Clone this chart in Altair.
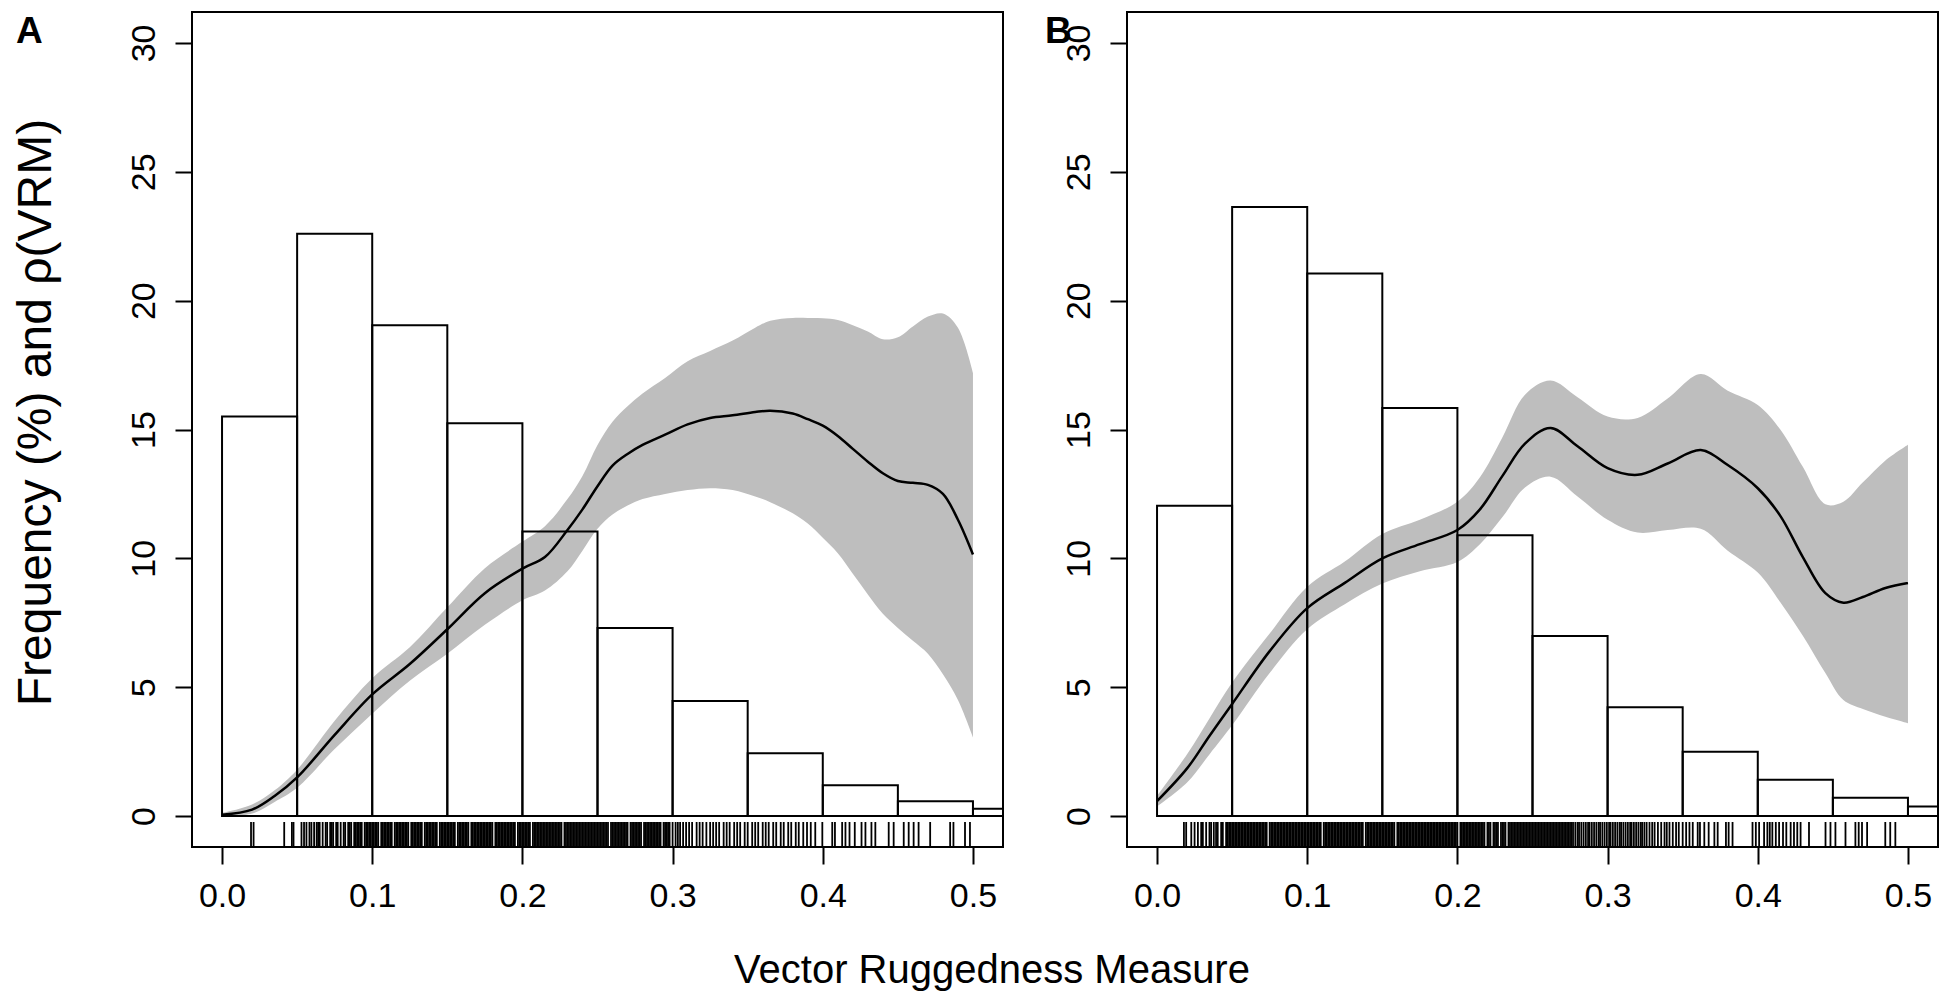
import altair as alt
import pandas as pd

# ---------------- data ----------------
BIN_START = [0.0, 0.05, 0.10, 0.15, 0.20, 0.25, 0.30, 0.35, 0.40, 0.45, 0.50]
BIN_END = [0.05, 0.10, 0.15, 0.20, 0.25, 0.30, 0.35, 0.40, 0.45, 0.50, 0.55]
HIST_A = [15.5, 22.6, 19.05, 15.24, 11.04, 7.3, 4.47, 2.44, 1.2, 0.58, 0.28]
HIST_B = [12.04, 23.63, 21.05, 15.83, 10.9, 6.99, 4.22, 2.5, 1.41, 0.71, 0.37]

CX_A = [0.0, 0.02, 0.035, 0.05, 0.075, 0.1, 0.125, 0.15, 0.175, 0.2, 0.215, 0.23,
        0.24, 0.25, 0.26, 0.27, 0.28, 0.295, 0.31, 0.325, 0.34, 0.355, 0.365, 0.38,
        0.39, 0.4, 0.41, 0.42, 0.43, 0.44, 0.45, 0.46, 0.47, 0.48, 0.49, 0.5]
MID_A = [0.05, 0.25, 0.78, 1.5, 3.15, 4.72, 5.9, 7.25, 8.65, 9.6, 10.05, 11.1,
         11.9, 12.8, 13.6, 14.05, 14.4, 14.8, 15.2, 15.45, 15.55, 15.68, 15.73, 15.62,
         15.4, 15.15, 14.75, 14.25, 13.75, 13.3, 13.0, 12.93, 12.85, 12.5, 11.5, 10.15]
HI_A = [0.12, 0.45, 1.0, 1.8, 3.7, 5.35, 6.55, 8.1, 9.62, 10.65, 11.25, 12.3,
        13.2, 14.4, 15.3, 15.9, 16.4, 17.0, 17.65, 18.05, 18.45, 18.95, 19.22, 19.33,
        19.33, 19.32, 19.25, 19.05, 18.8, 18.5, 18.58, 19.0, 19.38, 19.5, 18.95, 17.2]
LO_A = [0.0, 0.1, 0.55, 1.1, 2.6, 3.97, 5.25, 6.3, 7.42, 8.37, 8.75, 9.5,
        10.3, 11.15, 11.7, 12.05, 12.3, 12.5, 12.65, 12.72, 12.65, 12.4, 12.18, 11.75,
        11.35, 10.8, 10.2, 9.4, 8.6, 7.85, 7.3, 6.8, 6.3, 5.5, 4.5, 3.05]

CX_B = [0.0, 0.02, 0.035, 0.05, 0.075, 0.1, 0.125, 0.15, 0.175, 0.2, 0.215, 0.23,
        0.245, 0.262, 0.28, 0.3, 0.32, 0.34, 0.362, 0.38, 0.4, 0.415, 0.43, 0.445,
        0.457, 0.47, 0.485, 0.5]
MID_B = [0.58, 1.85, 3.12, 4.35, 6.4, 8.07, 9.05, 10.0, 10.55, 11.1, 11.9, 13.2,
         14.45, 15.06, 14.35, 13.5, 13.24, 13.68, 14.2, 13.62, 12.72, 11.65, 10.05, 8.65,
         8.28, 8.5, 8.85, 9.04]
HI_B = [0.78, 2.4, 3.8, 5.18, 7.08, 8.9, 9.88, 10.95, 11.5, 12.2, 13.15, 14.7,
        16.35, 16.9, 16.25, 15.5, 15.45, 16.2, 17.15, 16.5, 15.95, 15.0, 13.55, 12.1,
        12.2, 12.95, 13.8, 14.41]
LO_B = [0.37, 1.3, 2.4, 3.52, 5.55, 7.25, 8.22, 9.02, 9.5, 9.86, 10.55, 11.6,
        12.75, 13.17, 12.4, 11.5, 11.0, 11.1, 11.15, 10.3, 9.45, 8.3, 7.0, 5.55,
        4.5, 4.15, 3.85, 3.6]

# rug positions, in thousandths of VRM
RUG_A = [
    19.3, 21.0, 41.4, 46.5, 47.6, 52.9, 54.6, 56.2, 58.2, 59.5, 61.3,
    63, 64, 65, 67, 69, 70, 72, 73, 74, 76, 77, 79, 81, 82, 84, 85, 86, 88, 89,
    90, 91, 92, 93, 95, 96, 97, 98, 99, 100, 101, 102, 103, 104, 106, 107, 108, 109,
    110, 111, 112, 113, 115, 116, 117, 118, 119, 120, 121, 122, 123, 124, 126, 127, 128, 129,
    130, 131, 132, 133, 135, 136, 137, 138, 139, 140, 141, 142, 143, 145, 146, 147, 148, 149,
    150, 151, 152, 153, 154, 155, 157, 158, 159, 160, 161, 162, 163, 164, 166, 167, 168, 169,
    170, 171, 172, 173, 174, 175, 176, 177, 178, 179, 180, 182, 183, 184, 185, 186, 187, 188, 189,
    190, 191, 192, 193, 194, 195, 197, 198, 199, 200, 201, 202, 203, 204, 205, 207, 208, 209,
    210, 211, 212, 213, 214, 215, 216, 217, 218, 219, 220, 221, 222, 223, 224, 225, 226, 228, 229,
    230, 231, 232, 233, 234, 235, 236, 237, 238, 239, 240, 241, 242, 243, 244, 245, 246, 247, 248, 249,
    250, 251, 252, 253, 254, 255, 256, 257, 259, 260, 261, 262, 263, 264, 265, 266, 267, 268, 269,
    270, 272, 273, 274, 275, 276, 277, 278, 279, 281, 282, 283, 284, 285, 286, 287, 288, 289,
    290, 291, 292, 294, 295, 296, 297,
    298, 300, 302, 303.5, 305, 307, 309, 311, 313, 316, 318, 320, 322.5, 325, 327, 329, 331, 334,
    336, 338, 341, 343, 345, 348, 350, 353, 355, 357, 360, 362, 364, 367, 369, 372, 374, 377, 379,
    382, 384, 387, 389.5, 392, 395,
    399.7, 406.3, 408.1, 412.9, 415.1, 417.8, 421.3, 425.8, 428.4, 432.4, 435.0, 443.9, 447.2,
    453.9, 457.2, 460.5, 463.8, 471.5, 484.8, 487.0, 494.7, 498.0,
]
RUG_B = [
    17.9, 19.4, 22.8, 25.0, 27.2, 29.4, 30.5, 32.7, 34.9, 36.0, 37.8, 39.3, 40.4, 42.7, 43.8, 46.0,
    47, 48, 49, 50, 51, 52, 53, 54, 55, 56, 57, 58, 59, 60, 61, 62, 63, 64, 65, 66, 67, 68, 69,
    70, 71, 72, 73, 75, 76, 77, 78, 79, 80, 81, 82, 83, 84, 85, 86, 87, 88, 89,
    90, 91, 92, 93, 94, 95, 96, 97, 98, 99, 100, 101, 102, 103, 104, 105, 106, 107, 108, 109,
    111, 112, 113, 114, 115, 116, 117, 118, 119, 120, 121, 122, 123, 124, 125, 126, 127, 128, 129,
    130, 131, 132, 133, 134, 135, 136, 137, 139, 140, 141, 142, 143, 144, 145, 146, 147, 148, 149,
    150, 151, 152, 153, 154, 155, 156, 157, 158, 160, 161, 162, 163, 164, 165, 166, 167, 168, 169,
    170, 171, 172, 173, 174, 175, 176, 177, 178, 179, 180, 181, 182, 183, 184, 185, 186, 187, 188, 189,
    190, 191, 192, 193, 194, 195, 196, 197, 198, 199, 200, 202, 203, 204, 205, 206, 207, 208, 209,
    210, 211, 212, 213, 214, 215, 216, 217, 218, 220, 221, 222, 224, 225, 226, 227, 229,
    230, 231, 232, 234, 235, 236, 237, 238, 239, 240, 241, 242, 243, 244, 245, 246, 247, 248, 249,
    250, 251, 252, 253, 254, 255, 256, 257, 258, 259, 260, 261, 262, 263, 264, 265, 266, 267, 268, 269,
    270, 271, 272, 273, 274, 275, 276,
    277, 278.5, 280, 281, 282.5, 284, 285.5, 287, 288, 289.5, 291, 292.5, 294, 295, 296.5, 298,
    299.5, 301, 302, 303.5, 305, 306.5, 308, 309, 310.5, 312, 313.5, 315, 316, 317.5, 319, 320.5,
    322, 323, 324.5, 326,
    327.9, 329.7, 331.3, 333.5, 335.7, 337.9, 339.4, 341.2, 343.4, 345.6, 347.4, 350.0, 352.3,
    354.5, 356.7, 360.0, 361.5, 364.4, 367.3, 371.1, 373.3, 378.8, 380.6, 383.2,
    396.5, 398.7, 400.9, 404.2, 406.4, 408.0, 409.7, 412.0, 414.2, 416.8, 419.0, 421.9, 424.1,
    426.3, 428.5, 434.1,
    445.1, 448.4, 451.7, 458.4, 465.0, 467.2, 469.4, 472.8, 484.9, 488.2, 491.6,
]

X_TICKS = [0.0, 0.1, 0.2, 0.3, 0.4, 0.5]
Y_TICKS = [0, 5, 10, 15, 20, 25, 30]
Y_TITLE = "Frequency (%) and \u03c1(VRM)"
X_TITLE = "Vector Ruggedness Measure"

# ---------------- layout / style ----------------
W, H = 811, 835
XDOM = [-0.02, 0.52]
YDOM = [-1.2, 31.2]
FONT = "Liberation Sans"
BAND = "#BEBEBE"
SMOOTH = "catmull-rom"


def panel(hist, cx, lo, mid, hi, rug, label, with_ytitle):
    xs = alt.Scale(domain=XDOM, nice=False, zero=False)
    ys = alt.Scale(domain=YDOM, nice=False, zero=False)
    xaxis = alt.Axis(values=X_TICKS, format=".1f", title=None, labelFontSize=34,
                     labelColor="black", labelFont=FONT, tickSize=17, tickWidth=2,
                     tickColor="black", domain=False, grid=False, labelPadding=42,
                     labelBaseline="alphabetic", labelFlush=False)
    ykw = dict(values=Y_TICKS, labelFontSize=34, labelAngle=270, labelAlign="center",
               labelBaseline="alphabetic", labelPadding=21, tickSize=17, tickWidth=2,
               tickColor="black", labelColor="black", labelFont=FONT, domain=False,
               grid=False, labelFlush=False)
    if with_ytitle:
        yaxis = alt.Axis(title=Y_TITLE, titleFontSize=48, titleFontWeight="normal",
                         titleColor="black", titleFont=FONT, titlePadding=77,
                         titleBaseline="alphabetic", titleY=400, **ykw)
    else:
        yaxis = alt.Axis(title=None, **ykw)

    cdf = pd.DataFrame({"x": cx, "lo": lo, "mid": mid, "hi": hi})
    hdf = pd.DataFrame({"start": BIN_START, "end": BIN_END, "h": hist})
    rdf = pd.DataFrame({"r": [v / 1000.0 for v in rug]})

    band = alt.Chart(cdf).mark_area(color=BAND, interpolate=SMOOTH).encode(
        x=alt.X("x:Q", scale=xs, axis=xaxis),
        y=alt.Y("lo:Q", scale=ys, axis=yaxis),
        y2="hi:Q",
    )
    bars = alt.Chart(hdf).mark_rect(fillOpacity=0, stroke="black", strokeWidth=2,
                                    clip=True).encode(
        x=alt.X("start:Q", scale=xs, axis=xaxis),
        x2="end:Q",
        y=alt.Y("h:Q", scale=ys, axis=yaxis),
        y2=alt.datum(0),
    )
    line = alt.Chart(cdf).mark_line(color="black", strokeWidth=2.5,
                                    interpolate=SMOOTH).encode(
        x=alt.X("x:Q", scale=xs, axis=xaxis),
        y=alt.Y("mid:Q", scale=ys, axis=yaxis),
    )
    rugm = alt.Chart(rdf).mark_rule(color="black", strokeWidth=1.8).encode(
        x=alt.X("r:Q", scale=xs, axis=xaxis),
        y=alt.datum(-1.2),
        y2=alt.datum(-0.23),
    )
    ldf = pd.DataFrame({"t": [label]})
    lab = alt.Chart(ldf).mark_text(font=FONT, fontSize=37, fontWeight="bold",
                                   align="left", baseline="alphabetic",
                                   color="black").encode(
        text="t:N",
        x=alt.value(-176 if with_ytitle else -82),
        y=alt.value(31),
    )
    layers = [band, bars, line, rugm, lab]
    if with_ytitle:
        tdf = pd.DataFrame({"t": [X_TITLE]})
        xt = alt.Chart(tdf).mark_text(font=FONT, fontSize=40, align="center",
                                      baseline="alphabetic", color="black").encode(
            text="t:N",
            x=alt.value(800),
            y=alt.value(H + 136),
        )
        layers.append(xt)
    return alt.layer(*layers).properties(width=W, height=H)


pa = panel(HIST_A, CX_A, LO_A, MID_A, HI_A, RUG_A, "A", True)
pb = panel(HIST_B, CX_B, LO_B, MID_B, HI_B, RUG_B, "B", False)

chart = alt.hconcat(pa, pb, spacing=124, bounds="flush").properties(
    padding={"left": 3, "top": 3, "right": 0, "bottom": 0}
).configure(
    font=FONT, background="white"
).configure_view(
    stroke="black", strokeWidth=2
)

chart.save("out.html", embed_options={"renderer": "svg", "actions": False})
